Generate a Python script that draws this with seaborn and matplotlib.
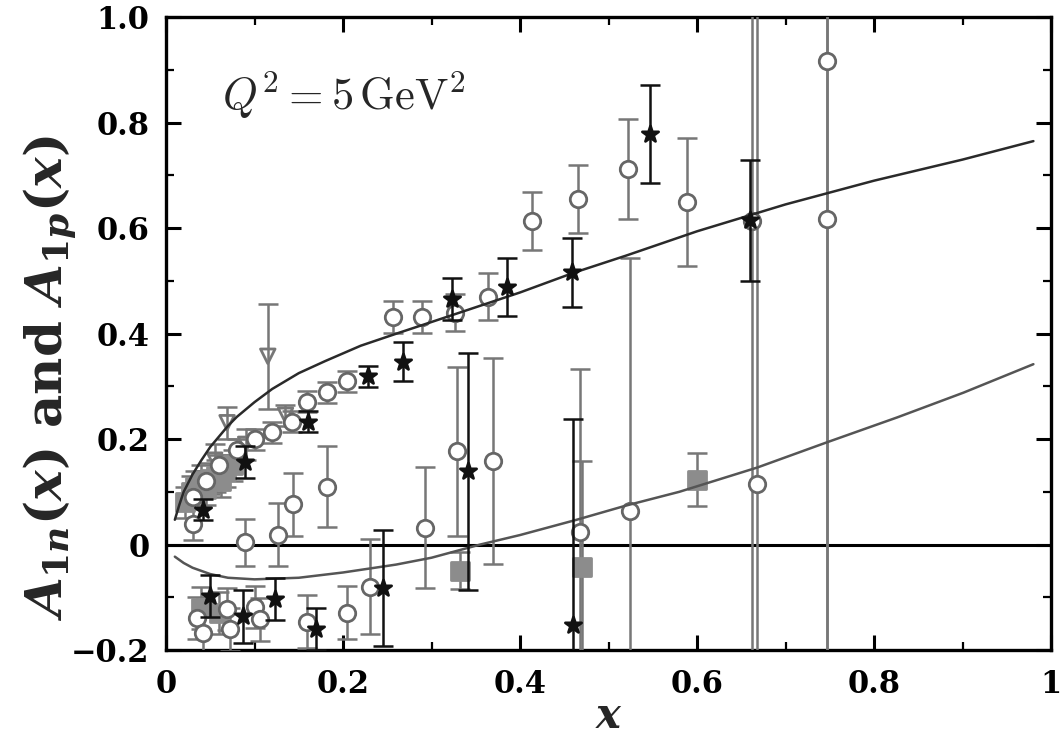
import numpy as np
import pandas as pd
import matplotlib
matplotlib.use("Agg")
import matplotlib.pyplot as plt
import seaborn as sns
from matplotlib.ticker import MultipleLocator

# ---------------- data ----------------
# model curves
curve_p_x = [0.01, 0.015, 0.02, 0.03, 0.04, 0.05, 0.06, 0.07, 0.08, 0.10, 0.12, 0.15, 0.18, 0.22, 0.264, 0.30, 0.35, 0.40, 0.46, 0.52, 0.60, 0.70, 0.80, 0.90, 0.98]
curve_p_y = [0.047, 0.075, 0.10, 0.133, 0.16, 0.185, 0.205, 0.225, 0.242, 0.27, 0.295, 0.325, 0.348, 0.377, 0.402, 0.422, 0.45, 0.478, 0.515, 0.548, 0.594, 0.645, 0.69, 0.73, 0.765]
curve_n_x = [0.01, 0.02, 0.03, 0.05, 0.07, 0.10, 0.15, 0.20, 0.26, 0.30, 0.355, 0.40, 0.464, 0.52, 0.58, 0.668, 0.747, 0.826, 0.901, 0.98]
curve_n_y = [-0.023, -0.035, -0.044, -0.056, -0.063, -0.066, -0.063, -0.053, -0.038, -0.025, 0.0, 0.018, 0.047, 0.074, 0.10, 0.146, 0.194, 0.241, 0.288, 0.342]

# proton, open circles
pc_x = [0.031, 0.045, 0.06, 0.08, 0.10, 0.12, 0.142, 0.159, 0.182, 0.205, 0.257, 0.289, 0.327, 0.364, 0.414, 0.466, 0.522, 0.589, 0.662, 0.747, 0.747]
pc_y = [0.09, 0.12, 0.15, 0.18, 0.20, 0.213, 0.233, 0.271, 0.289, 0.31, 0.431, 0.431, 0.44, 0.47, 0.613, 0.655, 0.712, 0.649, 0.613, 0.917, 0.617]
pc_e = [0.02, 0.02, 0.02, 0.02, 0.02, 0.02, 0.02, 0.02, 0.02, 0.02, 0.03, 0.03, 0.035, 0.045, 0.055, 0.065, 0.095, 0.121, 1.0, 1.2, 1.0]

# proton, black stars
ps_x = [0.042, 0.089, 0.16, 0.228, 0.268, 0.323, 0.385, 0.459, 0.547, 0.66]
ps_y = [0.066, 0.157, 0.233, 0.319, 0.347, 0.465, 0.488, 0.516, 0.778, 0.615]
ps_e = [0.02, 0.03, 0.02, 0.02, 0.037, 0.04, 0.055, 0.066, 0.093, 0.115]

# proton, grey triangles
pt_x = [0.055, 0.069, 0.09, 0.115, 0.135]
pt_y = [0.16, 0.231, 0.19, 0.357, 0.245]
pt_e = [0.03, 0.03, 0.03, 0.10, 0.02]

# proton, grey filled squares
pq_x = [0.022, 0.028, 0.033, 0.04, 0.045, 0.05, 0.056, 0.062, 0.068, 0.076]
pq_y = [0.08, 0.10, 0.11, 0.12, 0.105, 0.125, 0.13, 0.12, 0.14, 0.15]
pq_e = [0.03, 0.03, 0.03, 0.03, 0.03, 0.03, 0.03, 0.03, 0.03, 0.03]

# neutron, open circles
nc_x = [0.031, 0.035, 0.042, 0.069, 0.072, 0.089, 0.10, 0.106, 0.127, 0.144, 0.159, 0.182, 0.204, 0.23, 0.293, 0.329, 0.369, 0.468, 0.524, 0.668]
nc_y = [0.038, -0.139, -0.167, -0.123, -0.161, 0.004, -0.118, -0.142, 0.019, 0.076, -0.146, 0.11, -0.129, -0.08, 0.032, 0.177, 0.158, 0.023, 0.063, 0.114]
nc_e = [0.03, 0.04, 0.04, 0.04, 0.04, 0.045, 0.04, 0.04, 0.06, 0.06, 0.05, 0.077, 0.05, 0.09, 0.115, 0.16, 0.195, 0.31, 0.48, 1.0]

# neutron, black stars / triangles
ns_x = [0.05, 0.087, 0.123, 0.17, 0.245, 0.341, 0.46]
ns_y = [-0.098, -0.136, -0.104, -0.16, -0.082, 0.139, -0.152]
ns_e = [0.04, 0.05, 0.04, 0.04, 0.11, 0.225, 0.39]

# neutron, grey filled squares
nq_x = [0.04, 0.06, 0.332, 0.47, 0.60]
nq_y = [-0.12, -0.13, -0.05, -0.042, 0.123]
nq_e = [0.04, 0.04, 0.035, 0.2, 0.05]

x_ticks = [0, 0.2, 0.4, 0.6, 0.8, 1.0]
x_ticklabels = ["0", "0.2", "0.4", "0.6", "0.8", "1"]
y_ticks = [-0.2, 0, 0.2, 0.4, 0.6, 0.8, 1.0]
y_ticklabels = ["\u22120.2", "0", "0.2", "0.4", "0.6", "0.8", "1.0"]

# ---------------- style ----------------
sns.set_theme(style="ticks")
plt.rcParams["font.family"] = ["DejaVu Serif"]
plt.rcParams["mathtext.fontset"] = "custom"
plt.rcParams["mathtext.rm"] = "DejaVu Serif:bold"
plt.rcParams["mathtext.it"] = "DejaVu Serif:italic:bold"
plt.rcParams["mathtext.bf"] = "DejaVu Serif:bold"

fig = plt.figure(figsize=(10.6, 7.41), dpi=100)
ax = fig.add_axes([0.1566, 0.1228, 0.835, 0.854])

GREY = "#8c8c8c"
GREY_E = "#777777"

# zero line
ax.axhline(0, color="black", lw=2.2, zorder=1)

# curves
sns.lineplot(x=curve_p_x, y=curve_p_y, ax=ax, color="#2a2a2a", lw=1.8, zorder=5)
sns.lineplot(x=curve_n_x, y=curve_n_y, ax=ax, color="#555555", lw=1.8, zorder=5)

def series(x, y, e, marker, face, edge, ecol, ms, z=3):
    ax.errorbar(x, y, yerr=e, fmt="none", ecolor=ecol, elinewidth=1.8,
                capsize=7, capthick=1.8, zorder=z)
    df = pd.DataFrame({"x": x, "y": y})
    sns.scatterplot(data=df, x="x", y="y", ax=ax, marker=marker, s=ms,
                    facecolor=face, edgecolor=edge, linewidth=2.0, zorder=z + 1)

series(pq_x, pq_y, pq_e, "s", GREY, GREY, GREY_E, 170)
series(nq_x, nq_y, nq_e, "s", GREY, GREY, GREY_E, 170)
series(pt_x, pt_y, pt_e, "v", "none", GREY_E, GREY_E, 110)
series(pc_x, pc_y, pc_e, "o", "white", "#666666", GREY_E, 140)
series(nc_x, nc_y, nc_e, "o", "white", "#666666", GREY_E, 140)
series(ps_x, ps_y, ps_e, "*", "#111111", "#111111", "#111111", 150, z=6)
series(ns_x, ns_y, ns_e, "*", "#111111", "#111111", "#111111", 150, z=6)

ax.set_xlim(0, 1.0)
ax.set_ylim(-0.2, 1.0)
ax.set_xticks(x_ticks)
ax.set_xticklabels(x_ticklabels)
ax.set_yticks(y_ticks)
ax.set_yticklabels(y_ticklabels)
ax.xaxis.set_minor_locator(MultipleLocator(0.1))
ax.yaxis.set_minor_locator(MultipleLocator(0.1))
ax.tick_params(which="both", direction="in", top=True, right=True, colors="black")
ax.tick_params(which="major", length=11, width=2.2, labelsize=22)
ax.tick_params(axis="x", which="major", pad=14)
ax.tick_params(axis="y", which="major", pad=12)
ax.tick_params(which="minor", length=6, width=1.6)
for lab in ax.get_xticklabels() + ax.get_yticklabels():
    lab.set_fontweight("bold")
for s in ax.spines.values():
    s.set_linewidth(2.4)
    s.set_color("black")

ax.set_xlabel(r"$x$", fontsize=30, labelpad=-4)
ax.set_ylabel(r"$A_{1n}(x)$ and $A_{1p}(x)$", fontsize=37, fontweight="bold")
ax.yaxis.set_label_coords(-0.098, 0.43)

ax.text(0.063, 0.877, r"$Q^2 = 5\,\mathrm{GeV}^2$", transform=ax.transAxes,
        fontsize=32, math_fontfamily="cm", va="center", ha="left")

fig.savefig("out.png", dpi=100)
